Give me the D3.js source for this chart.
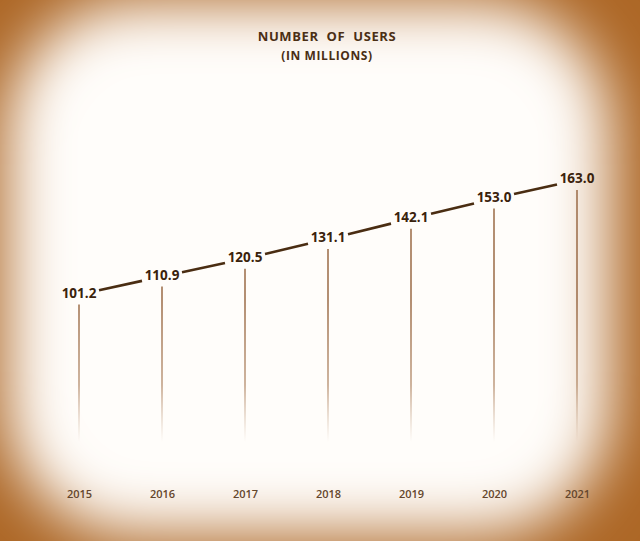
<!DOCTYPE html>
<html>
<head>
<meta charset="utf-8">
<script src="https://cdn.jsdelivr.net/npm/d3@7"></script>
<style>
  body { margin: 0; background: #fff; }
  svg { display: block; }
</style>
</head>
<body>
<div id="container"></div>
<script>
/* CONSTANTS AND GLOBALS */
const width = 640,
  height = 541;

// chart data
const years = ["2015", "2016", "2017", "2018", "2019", "2020", "2021"];
const users = [101.2, 110.9, 120.5, 131.1, 142.1, 153.0, 163.0];
const titleLines = ["NUMBER  OF  USERS", "(IN MILLIONS)"];

const svg = d3.select("#container")
  .append("svg")
  .attr("width", width)
  .attr("height", height);

const defs = svg.append("defs");

// soft vignette
defs.append("filter")
  .attr("id", "blur")
  .attr("x", "-30%").attr("y", "-30%")
  .attr("width", "160%").attr("height", "160%")
  .append("feGaussianBlur")
  .attr("stdDeviation", 30);

// stems fade towards the bottom
const stemGrad = defs.append("linearGradient")
  .attr("id", "stemFade")
  .attr("gradientUnits", "userSpaceOnUse")
  .attr("x1", 0).attr("x2", 0)
  .attr("y1", 300).attr("y2", 442);
stemGrad.append("stop").attr("offset", "0%").attr("stop-color", "#9a6a45").attr("stop-opacity", 1);
stemGrad.append("stop").attr("offset", "60%").attr("stop-color", "#a87a55").attr("stop-opacity", 0.75);
stemGrad.append("stop").attr("offset", "100%").attr("stop-color", "#c09a7a").attr("stop-opacity", 0);

svg.append("rect")
  .attr("width", width)
  .attr("height", height)
  .attr("fill", "#ad6726");

svg.append("rect")
  .attr("x", 6)
  .attr("y", 2)
  .attr("width", 604)
  .attr("height", 532)
  .attr("rx", 130)
  .attr("fill", "#fffdfa")
  .attr("filter", "url(#blur)");

/* SCALES */
const xScale = d3.scalePoint()
  .domain(years)
  .range([79, 577]);

const yScale = d3.scaleLinear()
  .domain([0, 163])
  .range([482, 180]);

const data = years.map((y, i) => ({ year: y, value: users[i] }));

/* TITLE */
svg.selectAll("text.title")
  .data(titleLines)
  .join("text")
  .attr("class", "title")
  .attr("x", 327)
  .attr("y", (d, i) => 41 + i * 19)
  .attr("text-anchor", "middle")
  .attr("font-family", "'Open Sans', sans-serif")
  .attr("font-weight", "bold")
  .attr("font-size", (d, i) => i === 0 ? 13 : 12)
  .attr("letter-spacing", 0.6)
  .attr("fill", "#4a2e14")
  .style("white-space", "pre")
  .text(d => d);

/* STEMS */
svg.selectAll("line.stem")
  .data(data)
  .join("line")
  .attr("class", "stem")
  .attr("x1", d => xScale(d.year))
  .attr("x2", d => xScale(d.year))
  .attr("y1", d => yScale(d.value) + 10)
  .attr("y2", 442)
  .attr("stroke", "url(#stemFade)")
  .attr("stroke-width", 1.5);

/* CONNECTING SEGMENTS (gap left for labels) */
const gap = 20;
const segs = d3.pairs(data);
svg.selectAll("line.seg")
  .data(segs)
  .join("line")
  .attr("class", "seg")
  .each(function ([a, b]) {
    const x1 = xScale(a.year), y1 = yScale(a.value);
    const x2 = xScale(b.year), y2 = yScale(b.value);
    const t1 = gap / (x2 - x1), t2 = 1 - gap / (x2 - x1);
    d3.select(this)
      .attr("x1", x1 + (x2 - x1) * t1)
      .attr("y1", y1 + (y2 - y1) * t1)
      .attr("x2", x1 + (x2 - x1) * t2)
      .attr("y2", y1 + (y2 - y1) * t2);
  })
  .attr("stroke", "#4a2d12")
  .attr("stroke-width", 2.6)
  .attr("stroke-linecap", "butt");

/* VALUE LABELS */
svg.selectAll("text.value")
  .data(data)
  .join("text")
  .attr("class", "value")
  .attr("x", d => xScale(d.year))
  .attr("y", d => yScale(d.value) + 3)
  .attr("text-anchor", "middle")
  .attr("font-family", "'Open Sans', sans-serif")
  .attr("font-weight", "bold")
  .attr("font-size", 13.5)
  .attr("fill", "#3a220c")
  .text(d => d.value.toFixed(1));

/* X AXIS */
const xAxis = d3.axisBottom(xScale).tickSize(0).tickPadding(0);
const xAxisGroup = svg.append("g")
  .attr("class", "xAxis")
  .attr("transform", `translate(0, ${490})`)
  .call(xAxis);
xAxisGroup.select(".domain").remove();
xAxisGroup.selectAll("text")
  .attr("font-family", "'Open Sans', sans-serif")
  .attr("font-weight", 600)
  .attr("font-size", 11)
  .attr("fill", "#64462c");
</script>
</body>
</html>
